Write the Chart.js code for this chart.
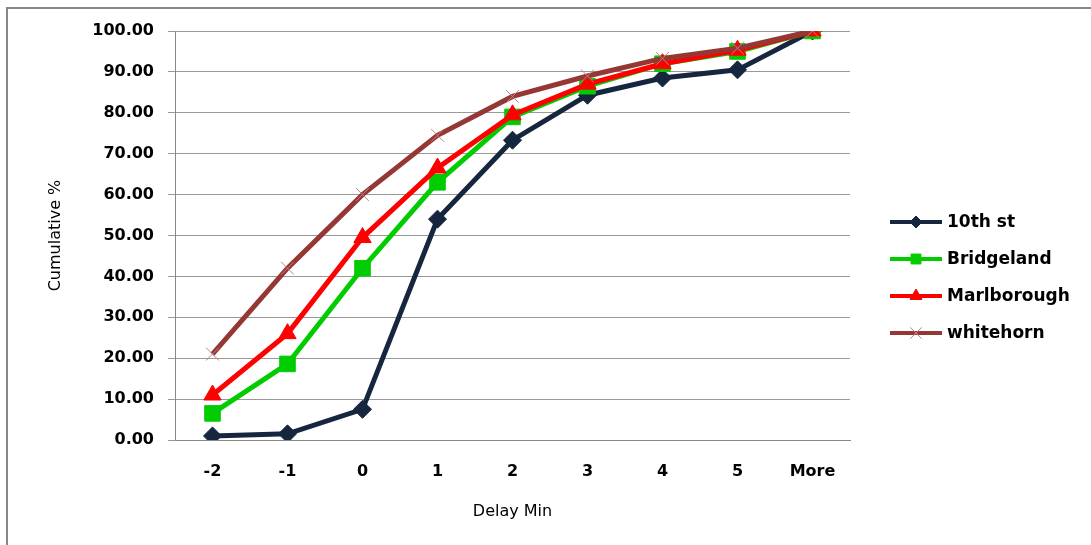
<!DOCTYPE html>
<html>
<head>
<meta charset="utf-8">
<script src="https://cdn.jsdelivr.net/npm/chart.js@4"></script>
<style>
  html, body { margin: 0; padding: 0; background: #fff; }
  #wrap { width: 1091px; height: 545px; position: relative; }
</style>
</head>
<body>
<div id="wrap"><canvas id="delayChart" width="1091" height="545"></canvas></div>
<script>
// delay distribution, cumulative %
const categories = ['-2', '-1', '0', '1', '2', '3', '4', '5', 'More'];
const tenthSt     = [1.0, 1.5, 7.5, 54.0, 73.3, 84.3, 88.5, 90.5, 100];
const bridgeland  = [6.5, 18.6, 42.0, 63.0, 79.0, 86.5, 92.0, 95.0, 100];
const marlborough = [11.0, 26.0, 49.5, 66.5, 79.5, 87.0, 92.0, 95.3, 100];
const whitehorn   = [21.0, 42.0, 60.0, 74.5, 84.0, 89.0, 93.3, 95.8, 100];
const yTicks = [0, 10, 20, 30, 40, 50, 60, 70, 80, 90, 100];

const tickFont = { family: 'DejaVu Sans', size: 16, weight: 'bold' };

// legend with line + marker, like the spreadsheet one
const sideLegend = {
  id: 'sideLegend',
  afterDraw(chart) {
    const ctx = chart.ctx;
    const x0 = 890, x1 = 942, rowH = 37;
    let y = 222;
    chart.data.datasets.forEach(ds => {
      ctx.save();
      ctx.strokeStyle = ds.borderColor;
      ctx.lineWidth = 4;
      ctx.beginPath();
      ctx.moveTo(x0, y);
      ctx.lineTo(x1, y);
      ctx.stroke();
      ctx.fillStyle = ds.pointBackgroundColor;
      ctx.strokeStyle = ds.pointBorderColor;
      ctx.lineWidth = ds.pointBorderWidth;
      Chart.helpers.drawPoint(ctx, {
        pointStyle: ds.pointStyle,
        radius: ds.legendRadius,
        borderWidth: ds.pointBorderWidth
      }, (x0 + x1) / 2, y);
      ctx.restore();
      ctx.save();
      ctx.fillStyle = '#000';
      ctx.font = 'bold 17px "DejaVu Sans"';
      ctx.textBaseline = 'middle';
      ctx.fillText(ds.label, 947, y + 1);
      ctx.restore();
      y += rowH;
    });
  }
};

const frame = {
  id: 'frame',
  beforeDraw(chart) {
    const ctx = chart.ctx;
    ctx.save();
    ctx.fillStyle = '#fff';
    ctx.fillRect(0, 0, chart.width, chart.height);
    ctx.strokeStyle = '#888';
    ctx.lineWidth = 2;
    ctx.strokeRect(7, 8, 1100, 560);
    ctx.restore();
  }
};

const ctx = document.getElementById('delayChart').getContext('2d');

new Chart(ctx, {
  type: 'line',
  data: {
    labels: categories,
    datasets: [
      {
        label: '10th st',
        data: tenthSt,
        order: 3,
        borderColor: '#17263f',
        backgroundColor: '#17263f',
        pointStyle: 'rectRot',
        pointRadius: 9,
        legendRadius: 6,
        pointBackgroundColor: '#17263f',
        pointBorderColor: '#17263f',
        pointBorderWidth: 1
      },
      {
        label: 'Bridgeland',
        data: bridgeland,
        order: 2,
        borderColor: '#00cc00',
        backgroundColor: '#00cc00',
        pointStyle: 'rect',
        pointRadius: 11,
        legendRadius: 7,
        pointBackgroundColor: '#00cc00',
        pointBorderColor: '#00cc00',
        pointBorderWidth: 1
      },
      {
        label: 'Marlborough',
        data: marlborough,
        order: 1,
        borderColor: '#ff0000',
        backgroundColor: '#ff0000',
        pointStyle: 'triangle',
        pointRadius: 10,
        legendRadius: 7,
        pointBackgroundColor: '#ff0000',
        pointBorderColor: '#ff0000',
        pointBorderWidth: 1
      },
      {
        label: 'whitehorn',
        data: whitehorn,
        order: 0,
        borderColor: '#953735',
        backgroundColor: '#953735',
        pointStyle: 'crossRot',
        pointRadius: 9,
        legendRadius: 8,
        pointBackgroundColor: '#c08080',
        pointBorderColor: '#c08080',
        pointBorderWidth: 1
      }
    ]
  },
  options: {
    responsive: false,
    animation: false,
    layout: { padding: { left: 0, top: 31, right: 241, bottom: 0 } },
    elements: {
      line: { borderWidth: 5, tension: 0 }
    },
    plugins: {
      legend: { display: false },
      tooltip: { enabled: false }
    },
    scales: {
      x: {
        offset: true,
        grid: { display: false, drawTicks: false },
        border: { display: true, color: '#888', width: 1 },
        ticks: { color: '#000', font: tickFont, padding: 22 },
        title: {
          display: true,
          text: 'Delay Min',
          color: '#000',
          font: { family: 'DejaVu Sans', size: 16 },
          padding: { top: 0, bottom: 24 }
        },
        afterFit: s => { s.height = 105; }
      },
      y: {
        min: 0,
        max: 100,
        afterBuildTicks: s => { s.ticks = yTicks.map(v => ({ value: v })); },
        grid: { color: '#999', lineWidth: 1, tickLength: 7 },
        border: { display: true, color: '#888', width: 1 },
        ticks: {
          color: '#000',
          font: tickFont,
          padding: 14,
          callback: v => v.toFixed(2)
        },
        title: {
          display: true,
          text: 'Cumulative %',
          color: '#000',
          font: { family: 'DejaVu Sans', size: 16 },
          padding: { top: 46, bottom: 0 }
        },
        afterFit: s => { s.width = 175; }
      }
    }
  },
  plugins: [frame, sideLegend]
});
</script>
</body>
</html>
